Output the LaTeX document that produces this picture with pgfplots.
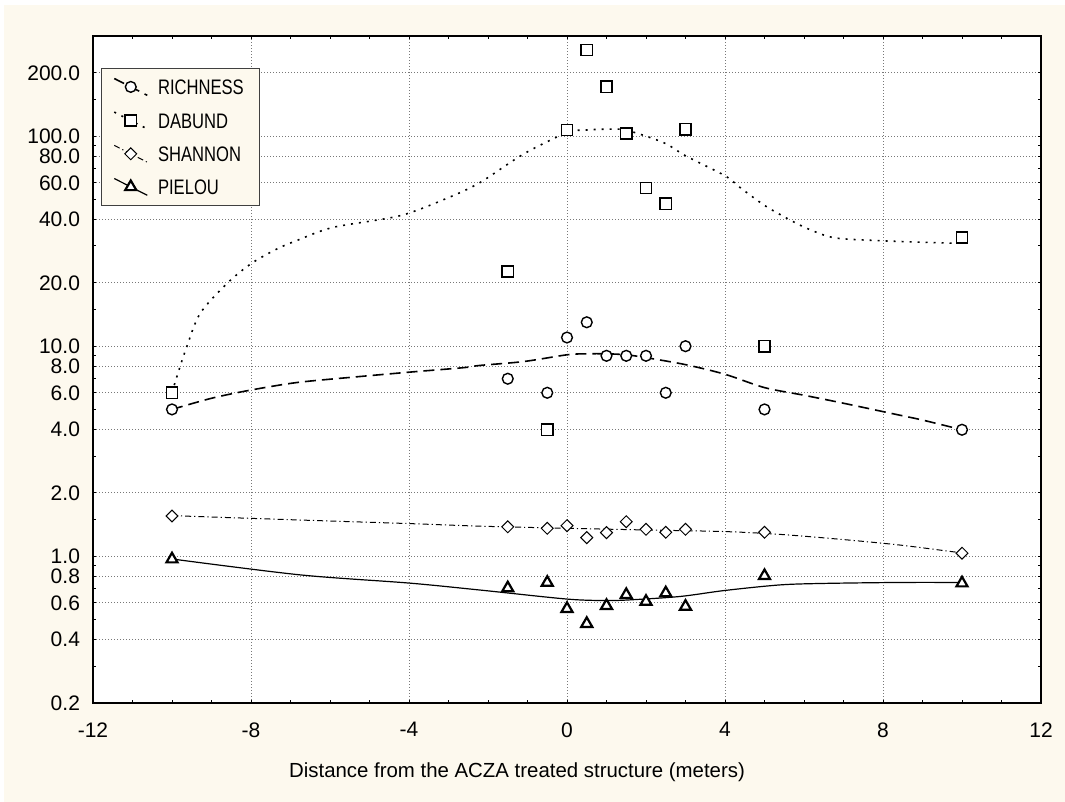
\documentclass[border=0pt]{standalone}
\usepackage{fontspec}
\setmainfont{Liberation Sans}
\newfontfamily\legfont[FakeStretch=0.79]{Liberation Sans}
\usepackage{pgfplots}
\pgfplotsset{compat=1.18}
\definecolor{cream}{RGB}{253,249,238}
\definecolor{gridgray}{RGB}{120,120,120}
\newcommand{\lgt}[1]{\makebox[44.5pt][l]{#1}}
\begin{document}
\begin{tikzpicture}
\useasboundingbox (0,0) rectangle (532.5pt,401pt);
\fill[cream] (2pt,0pt) rectangle (532.5pt,398.5pt);
\begin{axis}[
  at={(46.5pt,49.5pt)}, anchor=south west,
  width=474pt, height=333.5pt, scale only axis,
  ymode=log, xmin=-12, xmax=12, ymin=0.2, ymax=300,
  axis background/.style={fill=white},
  xtick={-12,-8,-4,0,4,8,12},
  minor xtick={-11,-10,-9,-7,-6,-5,-3,-2,-1,1,2,3,5,6,7,9,10,11},
  ytick={0.2,0.4,0.6,0.8,1,2,4,6,8,10,20,40,60,80,100,200},
  yticklabels={0.2,0.4,0.6,0.8,1.0,2.0,4.0,6.0,8.0,10.0,20.0,40.0,60.0,80.0,100.0,200.0},
  minor ytick={0.3,0.5,0.7,0.9,1.5,3,5,7,9,15,30,50,70,90,150},
  tick align=inside, major tick length=1.5pt, minor tick length=1.5pt,
  grid=major,
  major grid style={gridgray, line width=0.5pt, dash pattern=on 0.5pt off 1pt},
  axis line style={line width=0.6pt},
  tick style={black, line width=0.5pt},
  ticklabel style={font=\fontsize{10.5}{12}\selectfont},
  /pgf/number format/assume math mode=true,
  xticklabel style={yshift=-6.2pt},
  yticklabel style={xshift=-3.0pt},
  xlabel={Distance from the ACZA treated structure (meters)},
  xlabel style={font=\fontsize{10.2}{12}\selectfont, at={(axis description cs:0.5,0)}, anchor=base, yshift=-37.5pt, xshift=-25pt},
  legend cell align=left,
  legend style={at={(rel axis cs:0.0084,0.952)}, anchor=north west,
    draw=black!75, line width=0.5pt, fill=cream,
    font=\fontsize{10.5}{12}\legfont,
    inner xsep=6pt, inner ysep=4.6pt, row sep=7.6pt,
    nodes={inner sep=0pt, text height=7.6pt, text depth=0pt},
    /tikz/every odd column/.append style={column sep=5pt}},
  legend image code/.code={
    \draw[#1, mark=none] (0pt,4.2pt) -- (16.5pt,-4.2pt);
    \draw[#1, only marks] plot coordinates {(8.25pt,0pt)};
  },
]
% legend entries
\addlegendimage{black, line width=0.8pt, dash pattern=on 5.5pt off 3pt, mark=*, mark size=2.7pt, mark options={solid, fill=white, draw=black, line width=0.7pt}}
\addlegendentry{\lgt{RICHNESS}}
\addlegendimage{black, line width=0.8pt, dash pattern=on 1pt off 3pt, mark=square*, mark size=2.8pt, mark options={solid, fill=white, draw=black, line width=0.8pt}}
\addlegendentry{\lgt{DABUND}}
\addlegendimage{black, line width=0.5pt, dash pattern=on 3pt off 1.5pt on 0.6pt off 1.5pt, mark=square*, mark size=2.1pt, mark options={solid, rotate=45, fill=white, draw=black, line width=0.5pt}}
\addlegendentry{\lgt{SHANNON}}
\addlegendimage{black, line width=0.6pt, mark=triangle*, mark size=3.2pt, mark options={solid, fill=white, draw=black, line width=1.1pt}}
\addlegendentry{\lgt{PIELOU}}

% fitted curves
\addplot[forget plot, black, line width=0.8pt, dash pattern=on 5.5pt off 3pt, smooth] coordinates {
(-10,5.0) (-9,5.65) (-8.03,6.17) (-6.85,6.71) (-5.5,7.1) (-3.97,7.53) (-2.63,7.9) (-2.2,8.1) (-1.1,8.45) (0,9.1) (0.5,9.2) (1,9.2) (1.5,9.1) (2,8.82) (3,8.17) (4,7.35) (5,6.35) (6,5.84) (7,5.35) (8.43,4.69) (9,4.45) (10,4.0)};
\addplot[forget plot, black, line width=0.8pt, dash pattern=on 1pt off 3pt, smooth] coordinates {
(-10,6.0) (-9.88,7.13) (-9.63,9.9) (-9.29,14.3) (-8.62,19.8) (-8,24.7) (-7.35,29.0) (-6.85,31.8) (-5.92,36.8) (-4.23,41.8) (-3,51) (-2.2,60.2) (-1.1,82.2) (0,104) (0.5,107) (1,108) (1.5,106.8) (2.44,93.3) (3,80.7) (4,64.8) (4.38,57) (5.01,46.7) (5.68,39.6) (6.15,35.9) (6.78,32.8) (7.92,31.8) (9.6,31) (10,31)};
\addplot[forget plot, black, line width=0.5pt, dash pattern=on 3pt off 1.5pt on 0.6pt off 1.5pt, smooth] coordinates {
(-10,1.56) (-6.76,1.487) (-4,1.43) (-2.2,1.39) (0,1.358) (2.02,1.333) (4,1.31) (5.4,1.27) (7,1.2) (8.43,1.13) (9.77,1.05) (10,1.04)};
\addplot[forget plot, black, line width=0.6pt, smooth] coordinates {
(-10,0.97) (-6.76,0.815) (-4,0.745) (-2.2,0.69) (0,0.625) (1,0.615) (1.62,0.62) (2.86,0.643) (4,0.687) (5.39,0.73) (6.5,0.742) (8.43,0.75) (10,0.75)};

% data points
\addplot[forget plot, only marks, mark=*, mark size=2.7pt, mark options={fill=white, draw=black, line width=0.7pt}] coordinates {
(-10,5) (-1.5,7) (-0.5,6) (0,11) (0.5,13) (1,9) (1.5,9) (2,9) (2.5,6) (3,10) (5,5) (10,4)};
\addplot[forget plot, only marks, mark=square*, mark size=2.8pt, mark options={fill=white, draw=black, line width=0.8pt}] coordinates {
(-10,6) (-1.5,22.7) (-0.5,4) (0,107) (0.5,257) (1,172) (1.5,103) (2,56.6) (2.5,47.7) (3,108) (5,10) (10,33)};
\addplot[forget plot, only marks, mark=square*, mark size=2.1pt, mark options={rotate=45, fill=white, draw=black, line width=0.5pt}] coordinates {
(-10,1.554) (-1.5,1.38) (-0.5,1.358) (0,1.398) (0.5,1.226) (1,1.295) (1.5,1.46) (2,1.343) (2.5,1.30) (3,1.343) (5,1.30) (10,1.033)};
\addplot[forget plot, only marks, mark=triangle*, mark size=3.2pt, mark options={fill=white, draw=black, line width=1.1pt}] coordinates {
(-10,0.968) (-1.5,0.705) (-0.5,0.749) (0,0.562) (0.5,0.477) (1,0.581) (1.5,0.655) (2,0.608) (2.5,0.667) (3,0.576) (5,0.806) (10,0.744)};
\end{axis}
\end{tikzpicture}
\end{document}
